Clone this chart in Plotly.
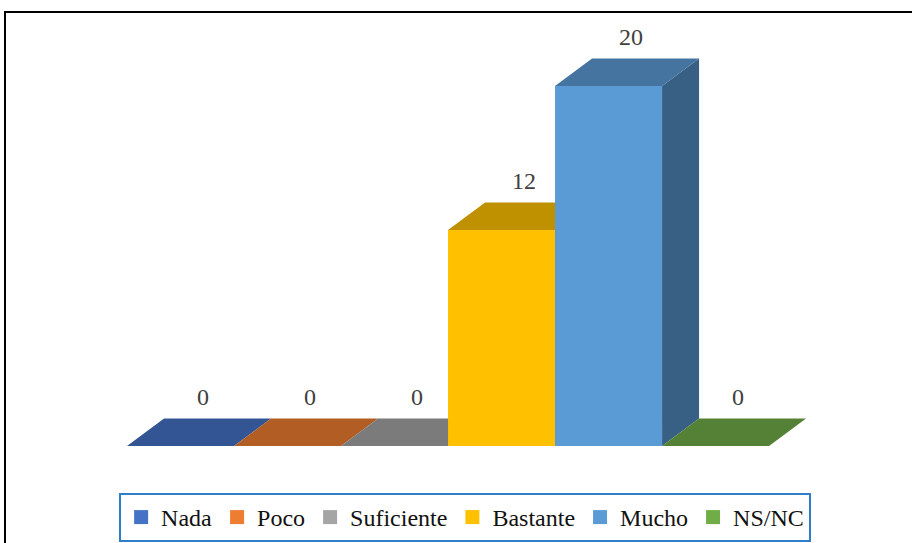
import plotly.graph_objects as go

# ---- data ----
categories = ["Nada", "Poco", "Suficiente", "Bastante", "Mucho", "NS/NC"]
values = [0, 0, 0, 12, 20, 0]
value_labels = ["0", "0", "0", "12", "20", "0"]

# ---- styles ----
front_colors = ["#4472C4", "#ED7D31", "#A5A5A5", "#FFC000", "#5B9BD5", "#70AD47"]
TOP_SHADE = 0.75
SIDE_SHADE = 0.62
DX = 0.346   # depth offset in category units
DY = 1.53    # depth offset in value units
HALF = 0.5   # half bar width (bars touch each other)
FONT = "Liberation Serif"


def shade(hex_color, f):
    h = hex_color.lstrip("#")
    r, g, b = (int(h[i:i + 2], 16) for i in (0, 2, 4))
    return "#%02X%02X%02X" % (int(r * f), int(g * f), int(b * f))


fig = go.Figure()


def poly(xs, ys, color):
    fig.add_trace(go.Scatter(
        x=xs + [xs[0]], y=ys + [ys[0]], mode="lines", fill="toself",
        fillcolor=color, line=dict(width=0, color=color),
        hoverinfo="skip", showlegend=False))


for i, (cat, v, col) in enumerate(zip(categories, values, front_colors)):
    xl, xr = i - HALF, i + HALF
    # side face
    if v > 0:
        poly([xr, xr, xr + DX, xr + DX], [0, v, v + DY, DY], shade(col, SIDE_SHADE))
    # top face
    poly([xl, xr, xr + DX, xl + DX], [v, v, v + DY, v + DY], shade(col, TOP_SHADE))
    # front face
    if v > 0:
        poly([xl, xr, xr, xl], [0, 0, v, v], col)

# legend entries
for cat, col in zip(categories, front_colors):
    fig.add_trace(go.Scatter(
        x=[None], y=[None], mode="markers", name=cat,
        marker=dict(symbol="square", size=14, color=col)))

# value labels
for i, (v, lab) in enumerate(zip(values, value_labels)):
    fig.add_annotation(
        x=i + DX / 2 + 0.04, y=v + DY, text=lab, showarrow=False,
        yanchor="middle", yshift=21,
        font=dict(family=FONT, size=24, color="#404040"))

# outer frame
fig.add_shape(type="rect", xref="paper", yref="paper",
              x0=5 / 912, x1=1.05, y0=-0.05, y1=1 - 12 / 543,
              line=dict(color="#000000", width=2), fillcolor="rgba(0,0,0,0)")

fig.update_layout(
    width=912, height=543, autosize=False,
    margin=dict(l=0, r=0, t=0, b=0, autoexpand=False),
    paper_bgcolor="white", plot_bgcolor="white",
    xaxis=dict(range=[-1.687, 6.836], visible=False, fixedrange=True),
    yaxis=dict(range=[-5.389, 24.778], visible=False, fixedrange=True),
    showlegend=True,
    legend=dict(
        orientation="h", x=0.51, xanchor="center",
        y=1 - 542 / 543, yanchor="bottom",
        font=dict(family=FONT, size=24, color="#111111"),
        bordercolor="#2F7FC8", borderwidth=2, bgcolor="white",
        itemwidth=30,
    ),
)

fig.write_html("out.html")
